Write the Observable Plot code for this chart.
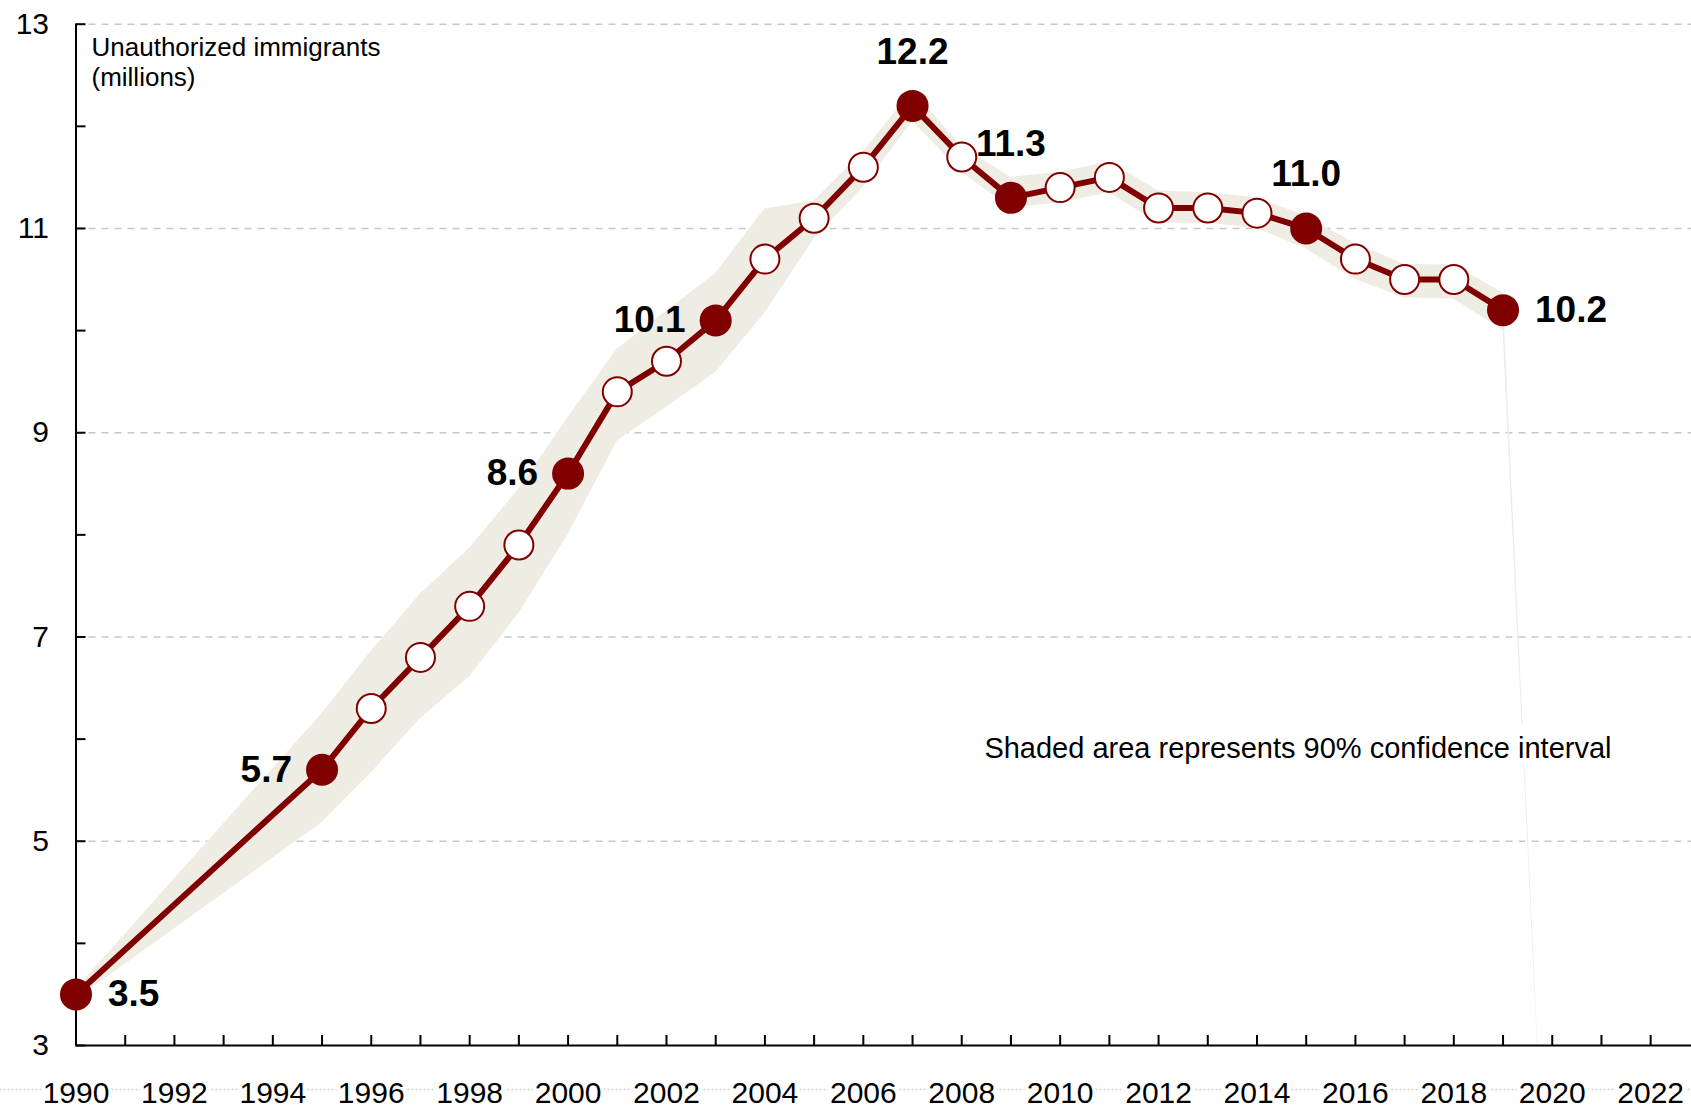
<!DOCTYPE html>
<html>
<head>
<meta charset="utf-8">
<script src="https://cdn.jsdelivr.net/npm/d3@7"></script>
<script src="https://cdn.jsdelivr.net/npm/@observablehq/plot@0.6"></script>
<style>
  html, body { margin: 0; padding: 0; background: #fff; overflow: hidden; }
  svg { display: block; }
</style>
</head>
<body>
<div id="chart"></div>
<script>
// ---- data ----
const years = [1990, 1995, 1996, 1997, 1998, 1999, 2000, 2001, 2002, 2003, 2004, 2005, 2006, 2007, 2008, 2009, 2010, 2011, 2012, 2013, 2014, 2015, 2016, 2017, 2018, 2019];
const immigrants = [3.5, 5.7, 6.3, 6.8, 7.3, 7.9, 8.6, 9.4, 9.7, 10.1, 10.7, 11.1, 11.6, 12.2, 11.7, 11.3, 11.4, 11.5, 11.2, 11.2, 11.15, 11.0, 10.7, 10.5, 10.5, 10.2];
const highlighted = [1990, 1995, 2000, 2003, 2007, 2009, 2015, 2019];

const bandYears = [1990, 1995, 1996, 1997, 1998, 1999, 2000, 2001, 2002, 2003, 2004, 2005, 2006, 2007, 2008, 2009, 2010, 2011, 2012, 2013, 2014, 2015, 2016, 2017, 2018, 2019, 2020];
const bandLow  = [3.45, 5.18, 5.67, 6.20, 6.61, 7.23, 8.00, 8.92, 9.25, 9.59, 10.17, 10.90, 11.40, 12.05, 11.55, 11.20, 11.25, 11.35, 11.05, 11.05, 11.00, 10.80, 10.50, 10.32, 10.31, 10.00, 0];
const bandHigh = [3.55, 6.25, 6.86, 7.42, 7.87, 8.45, 9.15, 9.82, 10.19, 10.56, 11.19, 11.27, 11.75, 12.35, 11.80, 11.50, 11.55, 11.65, 11.37, 11.35, 11.30, 11.12, 10.85, 10.65, 10.64, 10.37, 0];

const yLabelTicks = [3, 5, 7, 9, 11, 13];
const yMinorTicks = [3, 4, 5, 6, 7, 8, 9, 10, 11, 12, 13];
const xLabelTicks = [1990, 1992, 1994, 1996, 1998, 2000, 2002, 2004, 2006, 2008, 2010, 2012, 2014, 2016, 2018, 2020, 2022];
const xMinorTicks = d3.range(1990, 2023);

const yAxisTitle = "Unauthorized immigrants\n(millions)";
const note = "Shaded area represents 90% confidence interval";

// ---- tables ----
const series = years.map((year, i) => ({year, value: immigrants[i], hi: highlighted.includes(year)}));
const band = bandYears.map((year, i) => ({year, lo: bandLow[i], up: bandHigh[i]}));
const peakYear = series.reduce((a, b) => (b.value > a.value ? b : a)).year;
const firstYear = years[0], lastYear = years[years.length - 1];
const labeled = series.filter(d => d.hi);
const rightLabels = labeled.filter(d => d.year === firstYear || d.year === lastYear);
const leftLabels = labeled.filter(d => d.year !== firstYear && d.year !== lastYear && d.year < peakYear);
const aboveLabels = labeled.filter(d => d.year !== firstYear && d.year !== lastYear && d.year >= peakYear);

const RED = "#800000";
const font = "'Liberation Sans', Arial, Helvetica, sans-serif";
const fmt = d => d.value.toFixed(1);

const chart = Plot.plot({
  width: 1691,
  height: 1110,
  marginLeft: 75.5,
  marginRight: 0,
  marginTop: 23.7,
  marginBottom: 65,
  style: {fontFamily: font, background: "white", overflow: "visible", color: "black"},
  x: {domain: [1990, 2022.83]},
  y: {domain: [3, 13]},
  marks: [
    // grid
    Plot.ruleY(yLabelTicks.filter(d => d > 3), {stroke: "#c8c8c8", strokeWidth: 1.5, strokeDasharray: "7,6"}),
    // faint dotted guide behind year labels
    Plot.ruleY([3], {dy: 44, stroke: "#d0d0d0", strokeWidth: 1.5, strokeDasharray: "2,2", insetLeft: -76}),
    // confidence band
    Plot.areaY(band, {x: "year", y1: "lo", y2: "up", fill: "#efece4", clip: true}),
    // axes
    Plot.axisY({ticks: yLabelTicks, tickSize: 0, tickPadding: 27, fontSize: 30, label: null, tickFormat: d => String(d)}),
    Plot.axisY({ticks: yMinorTicks, tickSize: -10, tickPadding: 0, tickFormat: () => "", label: null, strokeWidth: 2}),
    Plot.axisX({ticks: xLabelTicks, tickSize: 0, tickPadding: 36, fontSize: 30, tickFormat: d => String(d), label: null,
                textStroke: "white", textStrokeWidth: 8}),
    Plot.axisX({ticks: xMinorTicks, tickSize: -10, tickPadding: 0, tickFormat: () => "", label: null, strokeWidth: 2}),
    Plot.ruleX([1990], {stroke: "black", strokeWidth: 2}),
    Plot.ruleY([3], {stroke: "black", strokeWidth: 2}),
    // series
    Plot.line(series, {x: "year", y: "value", stroke: RED, strokeWidth: 6}),
    Plot.dot(series.filter(d => !d.hi), {x: "year", y: "value", r: 14.5, fill: "white", stroke: RED, strokeWidth: 2}),
    Plot.dot(series.filter(d => d.hi), {x: "year", y: "value", r: 16, fill: RED}),
    // value labels
    Plot.text(rightLabels, {x: "year", y: "value", text: fmt, textAnchor: "start", dx: 32, fontSize: 37, fontWeight: "bold", fill: "black"}),
    Plot.text(leftLabels, {x: "year", y: "value", text: fmt, textAnchor: "end", dx: -30, fontSize: 37, fontWeight: "bold", fill: "black"}),
    Plot.text(aboveLabels, {x: "year", y: "value", text: fmt, textAnchor: "middle", dy: -54, fontSize: 37, fontWeight: "bold", fill: "black"}),
    // annotations
    Plot.text([yAxisTitle], {frameAnchor: "top-left", dx: 15.5, dy: 11, textAnchor: "start", lineAnchor: "top", fontSize: 26, lineHeight: 1.15, fill: "black"}),
    Plot.text([note], {frameAnchor: "top-right", dx: -80, dy: 725, textAnchor: "end", lineAnchor: "middle", fontSize: 29, fill: "black",
                       stroke: "white", strokeWidth: 22, strokeLinejoin: "round", paintOrder: "stroke"})
  ]
});
document.getElementById("chart").appendChild(chart);
</script>
</body>
</html>
